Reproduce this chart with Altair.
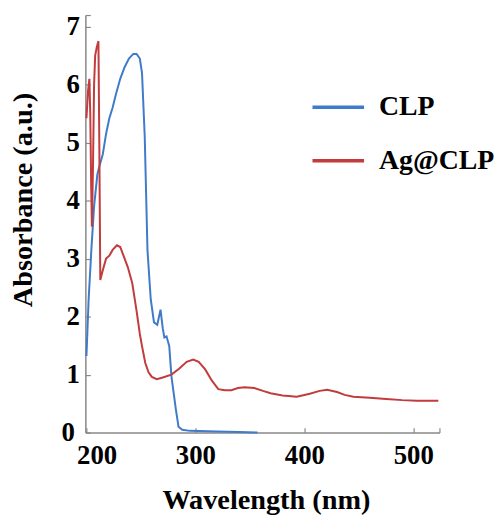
import altair as alt
import pandas as pd

# CLP spectrum
clp_wl = [200, 202, 204.5, 207, 210, 212, 215, 218, 221, 224, 227, 231, 235, 239, 243, 246,
          249, 251, 253.5, 256, 259, 262, 265, 268, 270, 271.5, 273.5, 276, 278, 282, 284.5,
          288, 295, 320, 340, 357]
clp_abs = [1.32, 2.3, 3.15, 3.9, 4.45, 4.6, 4.8, 5.15, 5.42, 5.6, 5.83, 6.1, 6.3, 6.45, 6.53, 6.53,
           6.45, 6.2, 5.1, 3.15, 2.3, 1.9, 1.86, 2.12, 1.8, 1.64, 1.66, 1.49, 0.97, 0.41, 0.1,
           0.05, 0.03, 0.02, 0.01, 0.0]

# Ag@CLP spectrum
ag_wl = [200, 201.5, 202.7, 203.5, 204.3, 205, 206, 207, 208, 209.5, 211, 211.8, 212.7, 215, 218,
         221, 224, 228, 231, 234, 238, 242, 246, 249, 251, 254, 257, 260, 264.5, 270, 278, 285,
         292, 298, 303, 309, 315, 321, 327, 333, 339, 345, 354, 362, 369, 380, 393, 405, 414,
         421, 430, 437, 445, 460, 475, 490, 503, 523]
ag_abs = [5.42, 5.9, 6.1, 5.5, 4.3, 3.55, 4.6, 6.0, 6.5, 6.65, 6.75, 5.0, 2.63, 2.8, 3.0,
          3.05, 3.15, 3.23, 3.2, 3.05, 2.85, 2.58, 2.1, 1.7, 1.49, 1.2, 1.04, 0.96, 0.92, 0.95, 1.0, 1.1,
          1.22, 1.26, 1.22, 1.09, 0.9, 0.75, 0.73, 0.73, 0.77, 0.78, 0.77, 0.72, 0.68, 0.64, 0.62, 0.67, 0.72,
          0.74, 0.7, 0.65, 0.62, 0.6, 0.58, 0.56, 0.55, 0.55]

series = ["CLP", "Ag@CLP"]
colors = ["#3f7bc8", "#c23b3d"]
legend_colors = ["#93b3da", "#c23b3d"]
x_domain = [199, 524]
y_domain = [0, 7.2]
x_ticks = [200, 300, 400, 500, 524]
y_ticks = [0, 1, 2, 3, 4, 5, 6, 7, 7.2]

df = pd.concat([
    pd.DataFrame({"wl": clp_wl, "abs": clp_abs, "s": "CLP"}),
    pd.DataFrame({"wl": ag_wl, "abs": ag_abs, "s": "Ag@CLP"}),
])

FONT = "Liberation Serif"

chart = alt.Chart(df).mark_line(strokeWidth=2).encode(
    x=alt.X("wl:Q", scale=alt.Scale(domain=x_domain, nice=False, zero=False),
            axis=alt.Axis(values=x_ticks, title="Wavelength (nm)",
                          labelExpr="datum.value > 510 ? '' : format(datum.value, 'd')",
                          labelPadding=15, labelFontSize=27,
                          labelFlush=5, labelFlushOffset=10,
                          titleFontSize=28.5, titleX=182, titleY=77,
                          titleBaseline="alphabetic", titleAlign="center",
                          tickSize=alt.ExprRef(expr="-5"))),
    y=alt.Y("abs:Q", scale=alt.Scale(domain=y_domain, nice=False),
            axis=alt.Axis(values=y_ticks, title="Absorbance (a.u.)",
                          labelExpr="datum.value > 7.1 ? '' : format(datum.value, 'd')",
                          labelPadding={"condition": {"test": "datum.value == 0", "value": 16}, "value": 11},
                          labelFontSize=27,
                          titleFontSize=28.5, titleX=-63, titleY=186,
                          titleBaseline="middle", titleAlign="center", titleAngle=270,
                          tickSize=alt.ExprRef(expr="-5"))),
    stroke=alt.Stroke("s:N", scale=alt.Scale(domain=series, range=colors),
                      legend=alt.Legend(
                          orient="none", legendX=227, legendY=65, title=None,
                          symbolType="stroke", symbolSize=2704, symbolStrokeWidth=3.5,
                          symbolStrokeColor=alt.ExprRef(
                              expr="datum.value == 'CLP' ? '%s' : '%s'" % (legend_colors[0], legend_colors[1])),
                          labelFont=FONT, labelFontWeight="bold", labelFontSize=28,
                          labelColor="black", labelOffset=13, rowPadding=12,
                      )),
    order=alt.Order("wl:Q"),
).properties(
    width=357, height=421,
    autosize=alt.AutoSizeParams(type="none"),
    padding={"left": 78, "top": 5, "right": 55, "bottom": 84},
).configure_axis(
    grid=False,
    domainColor="#888888", domainWidth=1.5,
    tickColor="#888888", tickWidth=1.2,
    labelFont=FONT, labelFontWeight="bold", labelColor="black",
    titleFont=FONT, titleFontWeight="bold", titleColor="black",
).configure_view(stroke=None)

chart.save("out.html", embed_options={"renderer": "svg", "actions": False})
